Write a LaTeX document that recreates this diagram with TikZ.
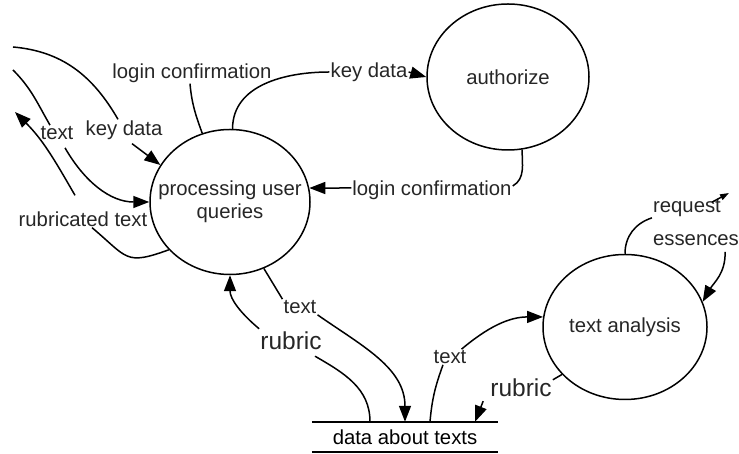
\documentclass[tikz,border=0pt]{standalone}
\usepackage{fontspec}
\setmainfont{Liberation Sans}
\usetikzlibrary{arrows.meta, shapes.geometric, positioning}
\newcommand{\flowfont}{\fontsize{20.3}{23}\selectfont}
\newcommand{\bigflowfont}{\fontsize{24.5}{28}\selectfont}
\tikzset{
    process/.style={
        ellipse,
        draw=black,
        line width=1.5pt,
        fill=white,
        inner sep=0pt
    },
    store/.style={
        rectangle,
        inner sep=0pt,
        font=\flowfont
    },
    flowlabel/.style={
        inner sep=1pt,
        text=black!85,
        font=\flowfont
    },
    bigflowlabel/.style={
        inner sep=1pt,
        text=black!85,
        font=\bigflowfont
    },
    flow/.style={
        draw=black,
        line width=1.5pt,
        -{Triangle[length=16pt, width=12pt]}
    },
    smallflow/.style={
        draw=black,
        line width=1.5pt,
        -{Triangle[length=9pt, width=6pt]}
    },
    link/.style={
        draw=black,
        line width=1.5pt
    }
}
\begin{document}
\begin{tikzpicture}[x=1pt, y=1pt]
\useasboundingbox (0,0) rectangle (739,454);

% Processes
\node[process, minimum width=160pt, minimum height=145pt,
      label={[flowlabel, align=center]center:processing user\\queries}] (proc) at (230,252) {};
\node[process, minimum width=162pt, minimum height=146pt,
      label={[flowlabel]center:authorize}] (auth) at (508,377) {};
\node[process, minimum width=164pt, minimum height=145pt,
      label={[flowlabel]center:text analysis}] (ana) at (625,127) {};

% Data store
\node[store, minimum width=186pt, minimum height=30pt] (store) at (405,17) {data about texts};
\draw[link] (store.north west) -- (store.north east);
\draw[link] (store.south west) -- (store.south east);

% Flow labels
\node[flowlabel] (kd1) at (124,324) {key data};
\node[flowlabel] (tx1) at (57,321) {text};
\node[flowlabel] (rt) at (83,235) {rubricated text};
\node[flowlabel] (lc1) at (192,381) {login confirmation};
\node[flowlabel] (kd2) at (369,382) {key data};
\node[flowlabel] (lc2) at (432,264) {login confirmation};
\node[flowlabel] (tx2) at (300,147) {text};
\node[bigflowlabel] (rb1) at (291,113) {rubric};
\node[flowlabel] (tx3) at (450,97) {text};
\node[bigflowlabel] (rb2) at (521,66) {rubric};
\node[flowlabel] (rq) at (687,246) {request};
\node[flowlabel] (es) at (696,214) {essences};

% Free ends at the left and top right
\coordinate (kdsrc) at (13,407);
\coordinate (txsrc) at (13,384);
\coordinate (rtdst) at (15,342);
\coordinate (rqdst) at (729,261);

% User side
\draw[link] (kdsrc) to[out=-5, in=120] ([xshift=-6pt]kd1.north);
\draw[flow] ([xshift=8pt, yshift=-3pt]kd1.south) -- (proc.152);
\draw[link] (txsrc) to[out=-45, in=120] ([xshift=-7pt]tx1.north);
\draw[flow] ([xshift=8pt, yshift=-7pt]tx1.south) to[out=-60, in=180] (proc.west);
\draw[link] (proc.218) to[out=200, in=-40, looseness=1.5] ([xshift=9pt]rt.south);
\draw[flow] ([xshift=-8pt, yshift=15pt]rt.north) to[out=120, in=-45] (rtdst);
\draw[link] ([xshift=-2pt]lc1.south) to[out=-85, in=110] (proc.112);

% Authorization
\draw[link] (proc.88) to[out=90, in=180] (kd2.west);
\draw[flow] (kd2.east) -- (auth.west);
\draw[link] (auth.-79) to[out=-90, in=30] ([yshift=4pt]lc2.east);
\draw[flow] ([yshift=2pt]lc2.west) -- (proc.10);

% Data store flows
\draw[link] (proc.-63) -- (tx2.north west);
\draw[flow] (tx2.south east) to[out=-35, in=90] (store.north);
\draw[link] ([xshift=-35pt]store.north) to[out=90, in=-30] ([xshift=24pt, yshift=-5pt]rb1.south);
\draw[flow] ([yshift=2pt]rb1.north west) to[out=140, in=-90] (proc.south);
\draw[link] ([xshift=25pt]store.north) to[out=85, in=-110] ([xshift=-7pt]tx3.south);
\draw[flow] ([xshift=-6pt]tx3.north east) to[out=40, in=180] (ana.173);
\draw[link] (ana.217) -- ([yshift=-2pt]rb2.north east);
\draw[flow] ([xshift=-6pt, yshift=-3pt]rb2.south west) -- ([xshift=70pt]store.north);

% Text analysis
\draw[link] (ana.north) to[out=90, in=198] (rq.south west);
\draw[smallflow] ([xshift=-10pt, yshift=-4pt]rq.north east) -- (rqdst);
\draw[flow] ([xshift=-15pt, yshift=-5pt]es.south east) to[out=-88, in=60] (ana.18);

\end{tikzpicture}
\end{document}
